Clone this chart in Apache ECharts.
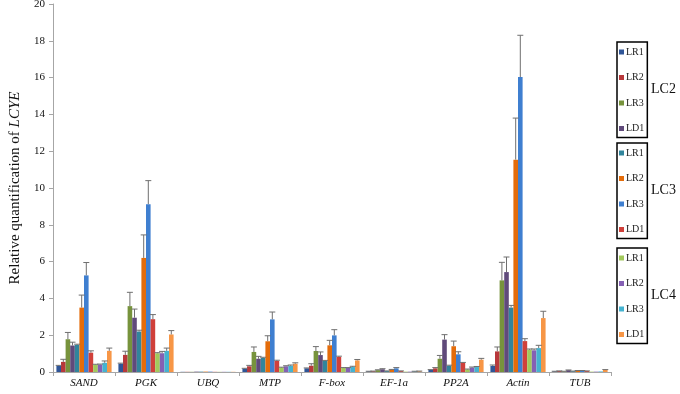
<!DOCTYPE html>
<html>
<head>
<meta charset="utf-8">
<script src="https://cdn.jsdelivr.net/npm/echarts@6/dist/echarts.min.js"></script>
<style>
    html, body { margin: 0; padding: 0; background: #fff; }
    #chart { width: 680px; height: 394px; }
</style>
</head>
<body>
<div id="chart"></div>
<script>
    var genes = ['SAND', 'PGK', 'UBQ', 'MTP', 'F-box', 'EF-1a', 'PP2A', 'Actin', 'TUB']
    var yTicks = [0, 20, 2] // min, max, step

    // mean values, one array per line/sample
    var lc2_lr1 = [0.33, 0.45, 0.01, 0.18, 0.20, 0.03, 0.11, 0.33, 0.03]
    var lc2_lr2 = [0.55, 0.93, 0.01, 0.31, 0.34, 0.04, 0.20, 1.12, 0.05]
    var lc2_lr3 = [1.78, 3.58, 0.01, 1.09, 1.14, 0.10, 0.72, 4.98, 0.03]
    var lc2_ld1 = [1.44, 2.95, 0.02, 0.72, 0.92, 0.15, 1.76, 5.43, 0.10]
    var lc3_lr1 = [1.47, 2.20, 0.02, 0.76, 0.60, 0.05, 0.34, 3.50, 0.04]
    var lc3_lr2 = [3.50, 6.20, 0.02, 1.67, 1.45, 0.12, 1.40, 11.54, 0.07]
    var lc3_lr3 = [5.25, 9.12, 0.02, 2.86, 1.99, 0.20, 0.96, 16.03, 0.07]
    var lc3_ld1 = [1.05, 2.87, 0.01, 0.60, 0.82, 0.05, 0.49, 1.68, 0.05]
    var lc4_lr1 = [0.40, 1.02, 0.01, 0.24, 0.22, 0.02, 0.14, 1.21, 0.02]
    var lc4_lr2 = [0.40, 1.02, 0.01, 0.31, 0.22, 0.02, 0.24, 1.18, 0.02]
    var lc4_lr3 = [0.50, 1.15, 0.01, 0.34, 0.27, 0.03, 0.27, 1.30, 0.03]
    var lc4_ld1 = [1.15, 2.04, 0.01, 0.45, 0.63, 0.04, 0.67, 2.93, 0.12]

    // error bars (upper part only)
    var lc2_lr1_sd = [0.03, 0.03, 0, 0.02, 0.02, 0.01, 0.02, 0.05, 0.01]
    var lc2_lr2_sd = [0.14, 0.20, 0, 0.05, 0.11, 0.01, 0.04, 0.24, 0.01]
    var lc2_lr3_sd = [0.37, 0.75, 0, 0.27, 0.24, 0.02, 0.18, 0.98, 0.01]
    var lc2_ld1_sd = [0.18, 0.47, 0, 0.13, 0.17, 0.03, 0.27, 0.82, 0.01]
    var lc3_lr1_sd = [0.04, 0.07, 0, 0.04, 0.03, 0.01, 0.03, 0.12, 0.01]
    var lc3_lr2_sd = [0.68, 1.25, 0, 0.30, 0.27, 0.02, 0.28, 2.26, 0.01]
    var lc3_lr3_sd = [0.70, 1.28, 0, 0.40, 0.31, 0.04, 0.14, 2.27, 0.01]
    var lc3_ld1_sd = [0.10, 0.25, 0, 0.04, 0.04, 0.01, 0.03, 0.13, 0.01]
    var lc4_lr1_sd = [0.02, 0.03, 0, 0.02, 0.02, 0, 0.02, 0.04, 0]
    var lc4_lr2_sd = [0.03, 0.10, 0, 0.03, 0.02, 0, 0.03, 0.07, 0]
    var lc4_lr3_sd = [0.10, 0.15, 0, 0.04, 0.04, 0.01, 0.03, 0.15, 0]
    var lc4_ld1_sd = [0.15, 0.21, 0, 0.05, 0.05, 0.01, 0.07, 0.37, 0.01]

    var groups = ['LC2', 'LC3', 'LC4']
    var samples = ['LR1', 'LR2', 'LR3', 'LD1']
    var means = [lc2_lr1, lc2_lr2, lc2_lr3, lc2_ld1, lc3_lr1, lc3_lr2, lc3_lr3, lc3_ld1, lc4_lr1, lc4_lr2, lc4_lr3, lc4_ld1]
    var sds = [lc2_lr1_sd, lc2_lr2_sd, lc2_lr3_sd, lc2_ld1_sd, lc3_lr1_sd, lc3_lr2_sd, lc3_lr3_sd, lc3_ld1_sd, lc4_lr1_sd, lc4_lr2_sd, lc4_lr3_sd, lc4_ld1_sd]

    var colors = ['#2F5597', '#B8383B', '#77933C', '#604A7B', '#31859C', '#E46C0A',
        '#3F7FD0', '#D0403A', '#A2C95C', '#8560B4', '#45B3D0', '#F79646']

    var serif = '"Liberation Serif", "DejaVu Serif", serif'
    var catGap = 0.11

    var names = []
    groups.forEach(function (g) {
        samples.forEach(function (s) { names.push(g + ' ' + s) })
    })

    var series = means.map(function (arr, i) {
        return {
            name: names[i],
            type: 'bar',
            data: arr,
            barGap: '0%',
            barCategoryGap: (catGap * 100) + '%',
            itemStyle: { color: colors[i] },
            silent: true
        }
    })

    var errData = []
    means.forEach(function (arr, i) {
        arr.forEach(function (v, j) {
            if (sds[i][j] > 0) errData.push([j, i, v + sds[i][j], v])
        })
    })

    series.push({
        type: 'custom',
        name: 'err',
        silent: true,
        z: 5,
        data: errData,
        encode: { x: 0, y: 2 },
        renderItem: function (params, api) {
            var catW = api.size([1, 0])[0]
            var barW = catW * (1 - catGap) / means.length
            var c = api.coord([api.value(0), api.value(2)])
            var x = c[0] + (api.value(1) - (means.length - 1) / 2) * barW
            var yTop = c[1]
            var yBar = api.coord([api.value(0), api.value(3)])[1]
            var style = { stroke: '#6f6f6f', lineWidth: 1 }
            return {
                type: 'group',
                children: [
                    { type: 'line', shape: { x1: x, y1: yBar, x2: x, y2: yTop }, style: style },
                    { type: 'line', shape: { x1: x - 3, y1: yTop, x2: x + 3, y2: yTop }, style: style }
                ]
            }
        }
    })

    var legendTops = [42, 143, 248]
    var legends = groups.map(function (g, k) {
        return {
            orient: 'vertical',
            left: 617,
            top: legendTops[k],
            data: names.slice(k * 4, k * 4 + 4),
            formatter: function (n) { return n.split(' ')[1] },
            icon: 'rect',
            itemWidth: 5,
            itemHeight: 5,
            itemGap: 15.5,
            padding: [5, 3, 4, 2],
            borderColor: '#000',
            borderWidth: 1.5,
            selectedMode: false,
            textStyle: { fontFamily: serif, fontSize: 10, color: '#222', padding: [0, 0, 0, -3] }
        }
    })

    var titles = groups.map(function (g, k) {
        return {
            text: g,
            left: 651,
            top: legendTops[k] + 40,
            padding: 0,
            textStyle: { fontFamily: serif, fontSize: 14, fontWeight: 'normal', color: '#111' }
        }
    })

    var option = {
        animation: false,
        backgroundColor: '#fff',
        title: titles,
        legend: legends,
        grid: { left: 53, right: 69, top: 4, bottom: 22, containLabel: false, outerBoundsMode: 'none' },
        xAxis: {
            type: 'category',
            data: genes,
            axisLine: { lineStyle: { color: '#a6a6a6' } },
            axisTick: { show: true, length: 4, lineStyle: { color: '#a6a6a6' } },
            axisLabel: { fontFamily: serif, fontStyle: 'italic', fontSize: 11, color: '#111', margin: 6 }
        },
        yAxis: {
            type: 'value',
            min: yTicks[0],
            max: yTicks[1],
            interval: yTicks[2],
            name: '{a|Relative quantification of }{b|LCYE}',
            nameLocation: 'middle',
            nameGap: 30,
            nameTextStyle: {
                rich: {
                    a: { fontFamily: serif, fontSize: 15, color: '#111' },
                    b: { fontFamily: serif, fontSize: 15, fontStyle: 'italic', color: '#111' }
                }
            },
            splitLine: { show: false },
            axisLine: { show: true, lineStyle: { color: '#a6a6a6' } },
            axisTick: { show: true, length: 4, lineStyle: { color: '#a6a6a6' } },
            axisLabel: { fontFamily: serif, fontSize: 11, color: '#111', margin: 8 }
        },
        series: series
    }

    var myChart = echarts.init(document.getElementById('chart'))
    myChart.setOption(option)
</script>
</body>
</html>
